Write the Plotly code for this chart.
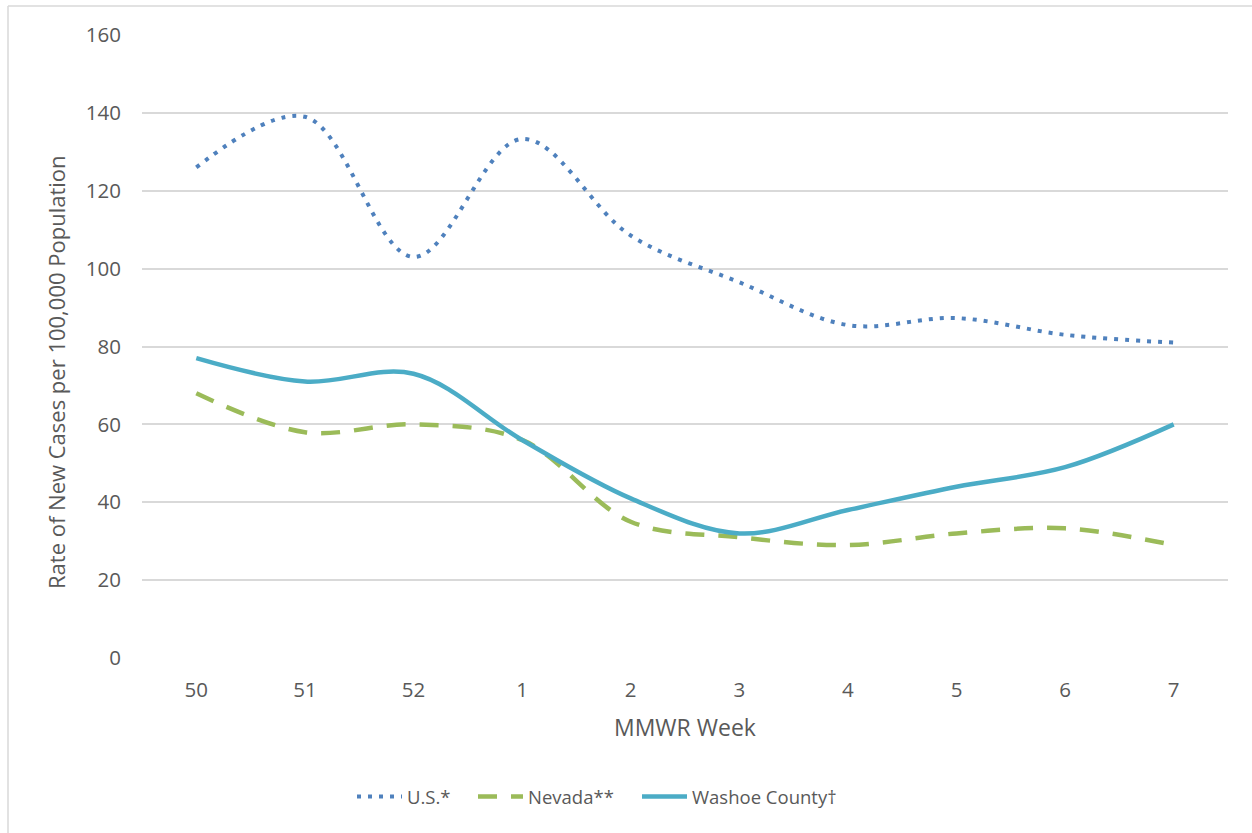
import plotly.graph_objects as go

weeks = ["50", "51", "52", "1", "2", "3", "4", "5", "6", "7"]
us = [126, 139, 103, 133.3, 108.5, 96.5, 85.5, 87.3, 83, 81]
nevada = [68, 58, 60, 56, 35, 31, 29, 32, 33.3, 29]
washoe = [77, 71, 73, 56, 41, 32, 38, 44, 49, 60]
y_ticks = [0, 20, 40, 60, 80, 100, 120, 140, 160]

W, H = 1252, 833
L, R, T, B = 142, 24, 35, 175
pw, ph = W - L - R, H - T - B

def px_x(x):
    return (x - L) / pw

def px_y(y):
    return (H - B - y) / ph

font = "Open Sans"
gray = "#595959"

fig = go.Figure()
fig.add_trace(go.Scatter(x=weeks, y=us, name="U.S.*", mode="lines", legend="legend",
                         line=dict(color="#4F81BD", width=4, dash="4px,7px", shape="spline", smoothing=1)))
fig.add_trace(go.Scatter(x=weeks, y=nevada, name="Nevada**", mode="lines", legend="legend2",
                         line=dict(color="#9BBB59", width=4.5, dash="19px,14px", shape="spline", smoothing=1)))
fig.add_trace(go.Scatter(x=weeks, y=washoe, name="Washoe County†", mode="lines", legend="legend3",
                         line=dict(color="#4BACC6", width=4.5, shape="spline", smoothing=1)))

def leg(xpx):
    return dict(orientation="h", x=px_x(xpx), xanchor="left", y=px_y(797), yanchor="middle",
                itemwidth=45,
                font=dict(size=18.5, color=gray, family=font), bgcolor="rgba(0,0,0,0)")

fig.update_layout(
    width=W, height=H,
    margin=dict(l=L, r=R, t=T, b=B),
    paper_bgcolor="white", plot_bgcolor="white",
    font=dict(family=font, color=gray, size=20),
    showlegend=True,
    legend=leg(352),
    legend2=leg(473),
    legend3=leg(637),
    xaxis=dict(type="category", range=[-0.5, 9.5], showgrid=False, zeroline=False,
               showline=False, ticks="", ticklabelstandoff=17,
               tickfont=dict(size=20.5, color=gray)),
    yaxis=dict(range=[0, 160], tickvals=y_ticks, showgrid=True, gridcolor="#D9D9D9",
               gridwidth=1.5, zeroline=False, showline=False, ticks="",
               ticklabelstandoff=20, tickfont=dict(size=20.5, color=gray)),
    annotations=[
        dict(text="MMWR Week", xref="paper", yref="paper", x=px_x(685), y=px_y(727),
             xanchor="center", yanchor="middle", showarrow=False, font=dict(size=23, color=gray)),
        dict(text="Rate of New Cases per 100,000 Population", xref="paper", yref="paper",
             x=px_x(56), y=px_y(372), xanchor="center", yanchor="middle", textangle=-90,
             showarrow=False, font=dict(size=22, color=gray)),
    ],
    shapes=[
        dict(type="line", xref="paper", yref="paper", x0=px_x(8), x1=px_x(1260), y0=px_y(6), y1=px_y(6),
             line=dict(color="#D9D9D9", width=1.5)),
        dict(type="line", xref="paper", yref="paper", x0=px_x(8), x1=px_x(8), y0=px_y(6), y1=px_y(840),
             line=dict(color="#D9D9D9", width=1.5)),
    ],
)

fig.write_html("out.html", config={"displayModeBar": False},
               post_script="document.body.style.margin='0';document.body.style.overflow='hidden';")
